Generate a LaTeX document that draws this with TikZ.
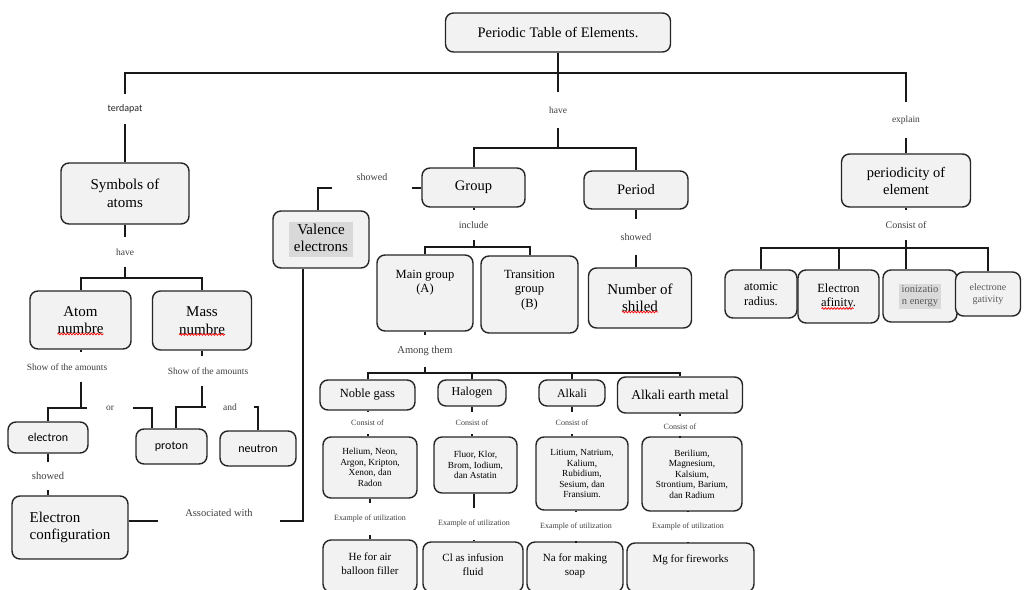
\documentclass[tikz,border=0pt]{standalone}
\usepackage{fontspec}
\setmainfont{Liberation Serif}
\newfontfamily\calibri{Carlito}
\usetikzlibrary{decorations.pathmorphing}
\definecolor{boxfill}{HTML}{F2F2F2}
\definecolor{hlgray}{HTML}{D9D9D9}
\newcommand{\hlbox}[2][5pt]{{\setlength{\fboxsep}{0pt}\colorbox{hlgray}{\begin{tabular}{@{\hspace{#1}}c@{\hspace{#1}}}#2\end{tabular}}}}

\tikzset{
  box/.style={draw=black!85, line width=1.4pt, fill=boxfill, rounded corners=8pt, align=center, inner sep=2pt},
  sz/.style 2 args={minimum width=#1pt, minimum height=#2pt},
  link/.style={draw=black!90, line width=2pt},
  lbl/.style={text=black!75, inner xsep=1pt, inner ysep=11pt, font=\fontsize{9.5}{11}\selectfont},
  spellwave/.style={draw=red, line width=0.7pt, decorate, decoration={snake, segment length=3pt, amplitude=0.9pt}},
  bigtxt/.style={font=\fontsize{15}{17.5}\selectfont},
  headtxt/.style={font=\fontsize{14.5}{17}\selectfont},
  midtxt/.style={font=\fontsize{12.5}{14.5}\selectfont},
  smalltxt/.style={font=\fontsize{9.3}{10.5}\selectfont},
  sanstxt/.style={font=\calibri\fontsize{12}{14}\selectfont},
}

\begin{document}
\begin{tikzpicture}[x=1pt,y=-1pt]
  \useasboundingbox (0,0) rectangle (1025,589);
  \clip (0,0) rectangle (1025,589);
  \fill[white] (0,0) rectangle (1025,589);

  % boxes
  \node[box,headtxt,sz={225}{39}] (title) at (558,32.5) {Periodic Table of Elements.};
  \node[box,bigtxt,sz={128}{61}] (symbols) at (125,193.5) {Symbols of\\atoms};
  \node[box,bigtxt,sz={101}{58}] (atomno) at (80.5,320) {Atom\\numbre};
  \node[box,bigtxt,sz={99}{59}] (massno) at (202,320.5) {Mass\\numbre};
  \node[box,sanstxt,sz={80}{31}] (electron) at (48,437.5) {electron};
  \node[box,sanstxt,sz={71}{35}] (proton) at (171.5,446.5) {proton};
  \node[box,sanstxt,sz={76}{35}] (neutron) at (258,448.5) {neutron};
  \node[box,bigtxt,align=left,sz={116}{63}] (econf) at (70,527.5) {Electron\\configuration};
  \node[box,bigtxt,sz={96}{57}] (valence) at (321,239.5) {\hlbox{Valence\\electrons}};
  \node[box,headtxt,sz={103}{39}] (group) at (473.5,187.5) {Group};
  \node[box,headtxt,sz={104}{38}] (period) at (636,190) {Period};
  \node[box,sz={96}{76},label={[midtxt,align=center,anchor=north,yshift=-12pt]north:{Main group\\(A)}}] (maingrp) at (425,293) {};
  \node[box,sz={97}{77},label={[midtxt,align=center,anchor=north,yshift=-11pt]north:{Transition\\group\\(B)}}] (transgrp) at (529.5,294.5) {};
  \node[box,bigtxt,sz={103}{60}] (shells) at (640,298) {Number of\\shiled};
  \node[box,headtxt,sz={129}{53}] (periodicity) at (906,180.5) {periodicity of\\element};
  \node[box,midtxt,sz={72}{48}] (radius) at (761,294) {atomic\\radius.};
  \node[box,midtxt,sz={81}{53}] (affinity) at (838.5,296.5) {Electron\\afinity.};
  \node[box,font=\fontsize{10.5}{12.5}\selectfont,text=black!65,sz={74}{52}] (ionization) at (920,296) {\hlbox[3pt]{ionizatio\\n energy}};
  \node[box,font=\fontsize{10}{12}\selectfont,text=black!65,sz={65}{44}] (electroneg) at (988,294) {electrone\\gativity};

  \node[box,midtxt,sz={95}{30}] (noble) at (367.5,395) {Noble gass};
  \node[box,font=\fontsize{12}{14}\selectfont,sz={68}{26}] (halogen) at (472,393) {Halogen};
  \node[box,font=\fontsize{12}{14}\selectfont,sz={66}{26}] (alkali) at (572,393) {Alkali};
  \node[box,font=\fontsize{13.5}{16}\selectfont,sz={125}{36}] (alkearth) at (680,395) {Alkali earth metal};

  \node[box,smalltxt,sz={94}{61}] (elnoble) at (370,467.5) {Helium, Neon,\\Argon, Kripton,\\Xenon, dan\\Radon};
  \node[box,smalltxt,sz={83}{56}] (elhalogen) at (475.5,465) {Fluor, Klor,\\Brom, Iodium,\\dan Astatin};
  \node[box,smalltxt,sz={92}{73}] (elalkali) at (582,473.5) {Litium, Natrium,\\Kalium,\\Rubidium,\\Sesium, dan\\Fransium.};
  \node[box,smalltxt,sz={100}{74}] (elalkearth) at (692,474) {Berilium,\\Magnesium,\\Kalsium,\\Strontium, Barium,\\dan Radium};

  \node[box,sz={94}{52},label={[font=\fontsize{11}{14}\selectfont,align=center,anchor=north,yshift=-10pt]north:{He for air\\balloon filler}}] (usenoble) at (370,566) {};
  \node[box,sz={100}{50},label={[font=\fontsize{11}{14}\selectfont,align=center,anchor=north,yshift=-9pt]north:{Cl as infusion\\fluid}}] (usehalogen) at (473,567) {};
  \node[box,sz={96}{50},label={[font=\fontsize{11}{14}\selectfont,align=center,anchor=north,yshift=-9pt]north:{Na for making\\soap}}] (usealkali) at (575,567) {};
  \node[box,sz={127}{49},label={[font=\fontsize{11}{14}\selectfont,align=center,anchor=north,yshift=-9pt]north:{Mg for fireworks}}] (usealkearth) at (690.5,567.5) {};

  % spelling marks
  \draw[spellwave] ([shift={(-23,14)}]atomno.center) -- ([shift={(23,14)}]atomno.center);
  \draw[spellwave] ([shift={(-23,14)}]massno.center) -- ([shift={(23,14)}]massno.center);
  \draw[spellwave] ([shift={(-18,14)}]shells.center) -- ([shift={(18,14)}]shells.center);
  \draw[spellwave] ([shift={(-17,12)}]affinity.center) -- ([shift={(15,12)}]affinity.center);

  % link labels
  \node[lbl,font=\calibri\fontsize{10}{12}\selectfont,text=black!85] (terdapat) at (125,109) {terdapat};
  \node[lbl,inner ysep=14pt] (have) at (558,110) {have};
  \node[lbl,inner ysep=13pt] (explain) at (906,120) {explain};
  \node[lbl] (symhave) at (125,252) {have};
  \node[lbl] (amount1) at (67,367) {Show of the amounts};
  \node[lbl] (amount2) at (208,371) {Show of the amounts};
  \node[lbl,inner xsep=19pt] (orlbl) at (110,408) {or};
  \node[lbl,inner xsep=17pt] (andlbl) at (230,407) {and};
  \node[lbl,font=\fontsize{10.5}{12}\selectfont,inner ysep=10pt] (econfshow) at (48,476) {showed};
  \node[lbl,font=\fontsize{10.5}{12}\selectfont,inner xsep=27pt] (assoc) at (219,513) {Associated with};
  \node[lbl,font=\fontsize{10}{12}\selectfont,inner xsep=25pt] (valshow) at (372,177) {showed};
  \node[lbl,font=\fontsize{10}{12}\selectfont] (include) at (473.5,225) {include};
  \node[lbl,font=\fontsize{10}{12}\selectfont,inner ysep=14pt] (perishow) at (636,237) {showed};
  \node[lbl,font=\fontsize{10.5}{12}\selectfont] (among) at (425,351) {Among them};
  \node[lbl,font=\fontsize{10}{12}\selectfont] (pericons) at (906,225) {Consist of};

  % top level
  \path (title.south) ++(0,20.5) coordinate (topj);
  \draw[link] (title.south) -- (topj);
  \draw[link] (terdapat.north) |- (topj) -| (explain.north);
  \draw[link] (topj) -- (have.north);
  \draw[link] (terdapat.south) -- (symbols.north);
  \draw[link] (explain.south) -- (periodicity.north);
  \path (have.south) ++(0,20.5) coordinate (havej);
  \draw[link] (have.south) -- (havej);
  \draw[link] (group.north) |- (havej) -| (period.north);

  % symbols of atoms
  \draw[link] (symbols.south) -- (symhave.north);
  \path (symhave.south) ++(0,11) coordinate (symj);
  \draw[link] (symhave.south) -- (symj);
  \draw[link] (atomno.north) |- (symj) -| (massno.north);
  \draw[link] (atomno.south) -- (atomno.south |- amount1.north);
  \draw[link] (atomno.south |- amount1.south) -- (atomno.south |- orlbl.west);
  \draw[link] (orlbl.west) -| (electron.north);
  \draw[link] (orlbl.east) -| ([xshift=-19.5pt]proton.north);
  \draw[link] (massno.south) -- (massno.south |- amount2.north);
  \draw[link] (massno.south |- amount2.south) -- (massno.south |- andlbl.west);
  \draw[link] (andlbl.west) -| ([xshift=4.5pt]proton.north);
  \draw[link] (andlbl.east) -| (neutron.north);
  \draw[link] (electron.south) -- (econfshow.north);
  \draw[link] (econfshow.south) -- (econfshow.south |- econf.north);
  \coordinate (ecj) at ([yshift=6.5pt]econf.east);
  \draw[link] (ecj) -- (ecj -| assoc.west);
  \draw[link] (ecj -| assoc.east) -| ([xshift=-18pt]valence.south);

  % group and period
  \draw[link] (group.west) -- (group.west -| valshow.east);
  \draw[link] (group.west -| valshow.west) -| ([xshift=-3pt]valence.north);
  \draw[link] (group.south) -- (include.north);
  \path (include.south) ++(0,7.5) coordinate (incj);
  \draw[link] (include.south) -- (incj);
  \draw[link] (maingrp.north) |- (incj) -| (transgrp.north);
  \draw[link] (period.south) -- (perishow.north);
  \draw[link] (perishow.south) -- (perishow.south |- shells.north);
  \draw[link] (maingrp.south) -- (maingrp.south |- among.north);
  \path (among.south) ++(0,6) coordinate (amongj);
  \draw[link] (among.south) -- (amongj);
  \draw[link] (noble.north) |- (amongj) -| (alkearth.north);
  \foreach \cat in {halogen,alkali}
    \draw[link] (\cat.north) -- (\cat.north |- amongj);

  % element groups
  \foreach \cat/\cx/\cy/\ex/\ey in {noble/367.5/423/370/519, halogen/472/423/474/524, alkali/572/423/576/527, alkearth/680/427/688/527}{
    \node[lbl,font=\fontsize{8}{10}\selectfont,inner ysep=8pt] (cons\cat) at (\cx,\cy) {Consist of};
    \node[lbl,font=\fontsize{8}{10}\selectfont,inner ysep=12pt] (ex\cat) at (\ex,\ey) {Example of utilization};
    \draw[link] (\cat.south) -- (\cat.south |- cons\cat.north);
    \draw[link] (cons\cat.south) -- (cons\cat.south |- el\cat.north);
    \draw[link] (el\cat.south -| ex\cat.north) -- (ex\cat.north);
    \draw[link] (ex\cat.south) -- (ex\cat.south |- use\cat.north);
  }

  % periodicity
  \draw[link] (periodicity.south) -- (pericons.north);
  \path (pericons.south) ++(0,8) coordinate (perj);
  \draw[link] (pericons.south) -- (pericons.south |- ionization.north);
  \draw[link] (radius.north) |- (perj) -| (electroneg.north);
  \draw[link] (affinity.north) -- (affinity.north |- perj);
\end{tikzpicture}
\end{document}
